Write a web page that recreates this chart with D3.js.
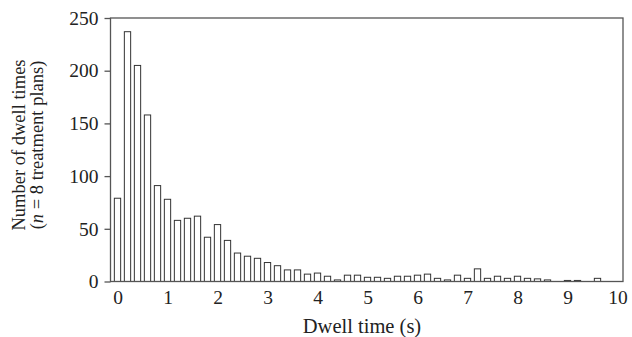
<!DOCTYPE html>
<html>
<head>
<meta charset="utf-8">
<script src="https://cdnjs.cloudflare.com/ajax/libs/d3/7.8.5/d3.min.js"></script>
<style>
  body { margin: 0; background: #fff; }
  text { font-family: "Liberation Serif", "Times New Roman", serif; fill: #222; }
</style>
</head>
<body>
<div id="chart"></div>
<script>
// histogram data: bin centres (s) and counts
var binCenters = [0, 0.2, 0.4, 0.6, 0.8, 1.0, 1.2, 1.4, 1.6, 1.8,
  2.0, 2.2, 2.4, 2.6, 2.8, 3.0, 3.2, 3.4, 3.6, 3.8,
  4.0, 4.2, 4.4, 4.6, 4.8, 5.0, 5.2, 5.4, 5.6, 5.8,
  6.0, 6.2, 6.4, 6.6, 6.8, 7.0, 7.2, 7.4, 7.6, 7.8,
  8.0, 8.2, 8.4, 8.6, 8.8, 9.0, 9.2, 9.4, 9.6, 9.8];
var counts = [79, 237, 205, 158, 91, 78, 58, 60, 62, 42,
  54, 39, 27, 24, 22, 18, 15, 11, 11, 7,
  8, 5, 1.5, 6, 6, 4, 4, 3, 5, 5,
  6, 7, 3, 1.5, 6, 3, 12, 3, 5, 3,
  5, 3, 2.5, 1.5, 0, 1, 1, 0, 3, 0];

var xTicks = [0, 1, 2, 3, 4, 5, 6, 7, 8, 9, 10];
var yTicks = [0, 50, 100, 150, 200, 250];

// SVG layout
var svgWidth = 632;
var svgHeight = 337;

var margin = {
  top: 18,
  right: 9,
  bottom: 55.5,
  left: 110.5
};

var width = svgWidth - margin.left - margin.right;
var height = svgHeight - margin.top - margin.bottom;

var svg = d3.select("#chart")
  .append("svg")
  .attr("width", svgWidth)
  .attr("height", svgHeight);

var chartGroup = svg.append("g")
  .attr("transform", `translate(${margin.left}, ${margin.top})`);

// scales
var xLinearScale = d3.scaleLinear()
  .domain([-0.14, 10.11])
  .range([0, width]);

var yLinearScale = d3.scaleLinear()
  .domain([0, 250])
  .range([height, 0]);

var barWidth = xLinearScale(0.126) - xLinearScale(0);

// bars
var data = binCenters.map((c, i) => ({ t: c, n: counts[i] }));

chartGroup.selectAll("rect.bar")
  .data(data)
  .enter()
  .append("rect")
  .classed("bar", true)
  .attr("x", d => xLinearScale(d.t) - barWidth / 2)
  .attr("y", d => yLinearScale(d.n))
  .attr("width", barWidth)
  .attr("height", d => height - yLinearScale(d.n))
  .attr("fill", "#fff")
  .attr("stroke", "#333")
  .attr("stroke-width", 1);

// frame
chartGroup.append("rect")
  .attr("x", 0)
  .attr("y", 0)
  .attr("width", width)
  .attr("height", height)
  .attr("fill", "none")
  .attr("stroke", "#555")
  .attr("stroke-width", 1.3);

// y axis
var leftAxis = d3.axisLeft(yLinearScale)
  .tickValues(yTicks)
  .tickSizeInner(6)
  .tickSizeOuter(0)
  .tickPadding(6);

var yAxis = chartGroup.append("g").call(leftAxis);
yAxis.select(".domain").remove();
yAxis.selectAll("line").attr("stroke", "#555").attr("stroke-width", 1.3);
yAxis.selectAll("text")
  .attr("font-size", "19.5px")
  .attr("font-family", "Liberation Serif")
  .attr("fill", "#222");

// x axis (labels only)
var bottomAxis = d3.axisBottom(xLinearScale)
  .tickValues(xTicks)
  .tickSize(0)
  .tickPadding(9);

var xAxis = chartGroup.append("g")
  .attr("transform", `translate(0, ${height})`)
  .call(bottomAxis);
xAxis.select(".domain").remove();
xAxis.selectAll("text")
  .attr("font-size", "19.5px")
  .attr("font-family", "Liberation Serif")
  .attr("fill", "#222");

// axis titles
svg.append("text")
  .attr("x", 362)
  .attr("y", 332.5)
  .attr("text-anchor", "middle")
  .attr("font-size", "20.5px")
  .text("Dwell time (s)");

var yLabel = svg.append("text")
  .attr("transform", "translate(25, 145) rotate(-90)")
  .attr("text-anchor", "middle")
  .attr("font-size", "18.5px");

yLabel.append("tspan")
  .attr("x", 0)
  .attr("y", 0)
  .text("Number of dwell times");

var line2 = yLabel.append("tspan")
  .attr("x", 0)
  .attr("y", 18);
line2.append("tspan").text("(");
line2.append("tspan").attr("font-style", "italic").text("n");
line2.append("tspan").text(" = 8 treatment plans)");
</script>
</body>
</html>
